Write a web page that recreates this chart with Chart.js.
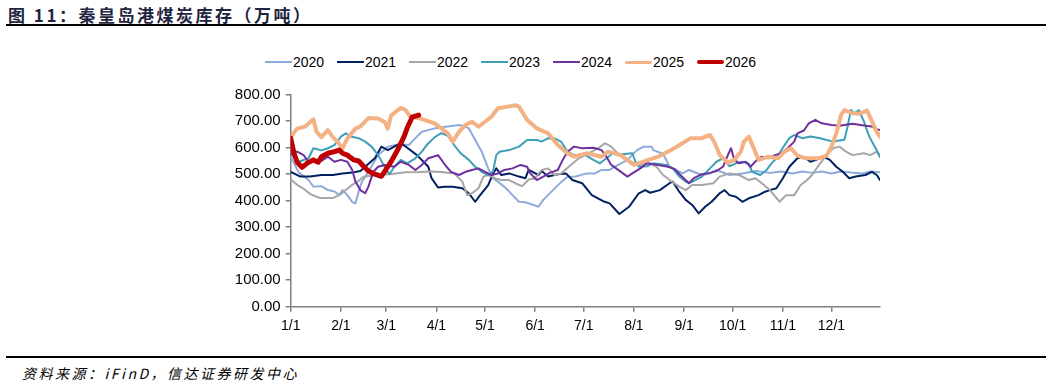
<!DOCTYPE html>
<html>
<head>
<meta charset="utf-8">
<script src="https://cdn.jsdelivr.net/npm/chart.js@4.4.1/dist/chart.umd.min.js"></script>
<style>
    html, body { margin: 0; padding: 0; background: #fff; }
    body { width: 1052px; height: 390px; position: relative; overflow: hidden; font-family: "Liberation Sans", Arial, sans-serif; }
    .title { position: absolute; left: 8px; top: 2px; font: bold 17px "Noto Sans CJK SC", sans-serif; color: #1f2440; letter-spacing: 2.5px; white-space: nowrap; }
    .rule { position: absolute; left: 6px; right: 6px; height: 2px; background: #000; }
    .source { position: absolute; left: 22px; top: 363px; font: italic 14px "Noto Sans CJK SC", sans-serif; letter-spacing: 2.5px; color: #000; white-space: nowrap; }
    #legend { position: absolute; left: 265px; top: 54px; display: flex; }
    #legend .item { width: 72px; display: flex; align-items: center; height: 16px; }
    #legend .swatch { width: 27px; margin-right: 1px; display: inline-block; }
    #legend .label { font-size: 14px; color: #000; line-height: 16px; }
    #wrap { position: absolute; left: 0; top: 80px; width: 1052px; height: 270px; }
</style>
</head>
<body>
<div class="title">图 11：秦皇岛港煤炭库存（万吨）</div>
<div class="rule" style="top:24px"></div>
<div id="legend"></div>
<div id="wrap"><canvas id="stockChart" width="1052" height="270"></canvas></div>
<div class="rule" style="top:356px"></div>
<div class="source">资料来源：iFinD，信达证券研发中心</div>
<script>
// x axis: day of year, ticks on the first day of each month
const monthStarts = [0, 31, 59, 90, 120, 151, 181, 212, 243, 273, 304, 334];
const monthLabels = ['1/1', '2/1', '3/1', '4/1', '5/1', '6/1', '7/1', '8/1', '9/1', '10/1', '11/1', '12/1'];

const seriesNames = ['2020', '2021', '2022', '2023', '2024', '2025', '2026'];

const days2020 = [0,5,11,14,19,23,27,30,32,35,38,40,42,44,48,54,60,67,73,77,81,89,97,104,108,110,114,118,122,125,128,133,137,141,145,150,153,156,162,167,171,176,183,188,192,197,200,208,214,218,223,224,229,231,234,238,242,246,254,259,263,271,279,287,296,303,310,316,322,328,334,340,346,353,358,364];
const vals2020 = [566,506,478,453,455,440,435,421,440,421,395,390,435,472,509,572,604,613,610,636,660,673,680,686,680,673,629,585,522,485,472,447,421,396,394,384,377,403,440,470,490,491,503,503,516,516,528,554,591,604,604,591,579,566,528,516,503,516,497,503,516,497,503,512,505,510,503,510,505,510,503,510,506,503,510,507];

const days2021 = [0,6,12,19,26,32,38,43,46,52,56,60,64,68,72,78,85,87,91,95,100,106,110,114,117,122,125,127,130,135,141,145,147,153,155,159,165,170,174,180,186,193,197,203,209,215,219,222,228,234,236,240,244,248,252,256,260,265,268,271,275,279,283,289,293,296,300,304,308,313,317,321,325,329,333,337,341,345,349,355,359,362,364];
const vals2021 = [509,491,491,497,497,503,506,512,528,560,604,591,604,617,600,572,528,485,450,453,453,447,428,396,421,459,503,522,497,503,491,485,516,497,512,491,500,503,478,466,421,398,390,350,377,428,440,430,440,466,472,434,403,384,352,377,396,428,440,421,415,396,409,421,434,440,447,485,528,560,566,547,555,566,554,528,509,485,491,497,509,497,478];

const days2022 = [0,4,8,12,18,26,31,35,38,42,45,52,61,71,80,86,93,101,106,109,112,116,119,122,126,130,135,139,143,147,151,155,159,163,167,173,178,184,190,194,198,203,207,215,222,226,230,234,240,244,248,254,261,265,271,277,283,287,291,296,302,306,311,315,319,322,327,331,335,339,343,347,354,358,362,364];
const vals2022 = [480,460,445,425,410,410,425,445,460,475,490,497,500,507,508,510,508,503,472,421,428,447,491,497,485,478,478,465,455,480,485,516,522,497,503,535,560,579,598,617,604,572,554,535,541,528,497,478,453,440,459,459,466,491,503,497,478,485,466,440,396,421,421,459,478,497,541,572,598,604,585,572,579,572,585,566];

const days2023 = [0,5,11,14,19,23,27,31,34,37,42,46,50,54,58,61,64,68,72,77,81,84,89,93,97,101,105,110,114,118,122,125,127,129,135,141,146,152,155,159,163,167,171,175,182,187,191,195,199,205,211,213,215,220,224,232,236,240,244,246,250,254,259,263,267,271,275,279,283,285,290,294,297,300,304,308,311,316,321,327,335,342,344,346,348,351,354,357,359,362,364];
const vals2023 = [579,547,560,598,590,598,610,642,654,642,636,623,604,572,528,500,528,554,541,560,585,610,640,655,645,610,579,554,528,509,497,510,572,585,591,604,629,629,623,636,635,623,585,572,572,554,541,560,579,575,579,547,528,530,541,535,522,491,472,466,478,491,522,547,560,530,541,547,540,509,497,516,541,560,600,636,648,636,642,636,623,630,680,742,730,742,700,648,623,590,566];

const days2024 = [0,4,8,11,14,19,23,27,31,35,38,40,43,46,48,51,54,58,64,68,73,77,81,85,88,91,96,99,104,108,112,116,120,124,128,132,137,142,146,148,152,156,160,165,168,171,175,180,187,192,195,198,204,208,211,216,220,227,233,237,241,246,249,254,259,263,267,270,272,274,277,281,284,288,291,295,299,303,307,311,313,317,320,324,328,334,339,347,355,359,362,364];
const vals2024 = [575,585,572,547,554,550,566,547,554,547,516,472,440,428,453,509,528,535,528,547,535,516,535,560,566,572,530,509,497,509,516,522,509,497,503,516,522,535,528,503,478,491,505,516,554,585,604,598,600,591,566,535,509,491,503,522,541,535,528,520,495,466,485,500,505,512,528,572,598,554,541,547,528,554,566,560,572,579,598,623,654,665,692,705,692,686,683,690,683,680,670,667];

const days2025 = [0,4,9,14,16,19,23,26,29,32,35,40,43,48,54,58,60,62,68,71,74,79,83,89,93,97,100,104,108,112,116,120,124,128,134,139,141,146,152,159,165,171,175,183,192,196,204,212,221,227,235,241,247,254,259,262,265,270,274,278,280,283,286,289,295,301,305,309,313,318,326,331,334,337,340,342,347,351,356,359,362,364];
const vals2025 = [640,672,680,707,660,640,666,640,622,597,635,672,680,712,710,697,672,722,750,742,716,712,704,692,673,654,623,660,686,698,679,698,717,749,755,760,755,705,673,654,610,579,566,579,566,585,572,535,554,566,591,613,636,636,648,617,572,543,554,585,623,642,598,554,566,560,585,598,570,560,560,570,604,654,725,742,730,728,740,700,660,642];

const days2026 = [0,2,4,7,10,14,17,19,23,27,30,32,35,39,42,45,48,52,56,58,62,66,70,72,75,79];
const vals2026 = [636,580,545,526,541,554,545,566,579,585,591,579,572,554,550,530,512,500,492,510,547,591,642,675,715,723];

const seriesColors = ['#8eaadb', '#002060', '#a6a6a6', '#3e9fb8', '#7030a0', '#f4b183', '#c00000'];
const lineWidths = [2, 2, 2, 2, 2, 4, 5];
const legendWidths = [2, 2, 2, 2, 2, 3, 4];

const seriesDays = [days2020, days2021, days2022, days2023, days2024, days2025, days2026];
const seriesVals = [vals2020, vals2021, vals2022, vals2023, vals2024, vals2025, vals2026];

function toPoints(days, vals) {
    return days.map((d, i) => ({ x: d, y: vals[i] }));
}

function buildLegend() {
    const legendEl = document.getElementById('legend');
    seriesNames.forEach((name, i) => {
        const item = document.createElement('div');
        item.className = 'item';
        const swatch = document.createElement('span');
        swatch.className = 'swatch';
        swatch.style.background = seriesColors[i];
        swatch.style.height = legendWidths[i] + 'px';
        swatch.style.borderRadius = legendWidths[i] > 2 ? '2px' : '0';
        const label = document.createElement('span');
        label.className = 'label';
        label.textContent = name;
        item.appendChild(swatch);
        item.appendChild(label);
        legendEl.appendChild(item);
    });
}

function createStockChart() {
    const axisColor = '#808080';
    const font = { family: '"Liberation Sans", Arial, sans-serif' };

    const datasets = seriesNames.map((name, i) => ({
        label: name,
        data: toPoints(seriesDays[i], seriesVals[i]),
        borderColor: seriesColors[i],
        backgroundColor: seriesColors[i],
        borderWidth: lineWidths[i],
        pointRadius: 0,
        tension: 0,
        borderJoinStyle: 'round',
        borderCapStyle: 'round',
        order: seriesNames.length - 1 - i
    }));

    const ctx = document.getElementById('stockChart').getContext('2d');
    new Chart(ctx, {
        type: 'line',
        data: { datasets },
        options: {
            responsive: false,
            animation: false,
            layout: { padding: { top: 14.7, bottom: 9.3, left: 0, right: 172 } },
            plugins: {
                legend: { display: false },
                tooltip: { enabled: false }
            },
            scales: {
                x: {
                    type: 'linear',
                    min: 0,
                    max: 364,
                    afterBuildTicks: (scale) => {
                        scale.ticks = monthStarts.map(v => ({ value: v }));
                    },
                    afterFit: (scale) => { scale.height = 34; },
                    ticks: {
                        autoSkip: false,
                        maxRotation: 0,
                        padding: 6,
                        color: '#000',
                        font: { ...font, size: 14 },
                        callback: (value, index) => monthLabels[index]
                    },
                    grid: { drawOnChartArea: false, drawTicks: true, tickLength: 5, color: axisColor, lineWidth: 1.5 },
                    border: { display: true, color: axisColor, width: 1.5 }
                },
                y: {
                    min: 0,
                    max: 800,
                    afterFit: (scale) => { scale.width = 290.7; },
                    ticks: {
                        stepSize: 100,
                        padding: 5,
                        color: '#000',
                        font: { ...font, size: 15 },
                        callback: (value) => Number(value).toFixed(2)
                    },
                    grid: { drawOnChartArea: false, drawTicks: true, tickLength: 5, color: axisColor, lineWidth: 1.5 },
                    border: { display: true, color: axisColor, width: 1.5 }
                }
            }
        }
    });
}

buildLegend();
createStockChart();
</script>
</body>
</html>
